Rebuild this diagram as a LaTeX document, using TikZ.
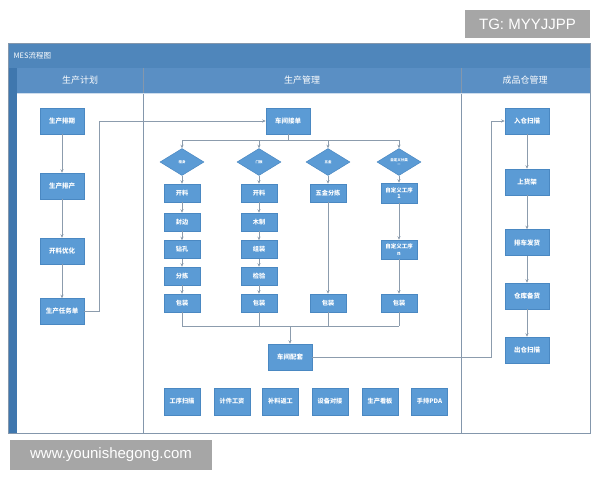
\documentclass[tikz,border=0pt]{standalone}
\usepackage{fontspec}
\setmainfont{Noto Sans CJK SC}
\newfontfamily\wmfont{Liberation Sans}
\usetikzlibrary{shapes.geometric,arrows.meta}
\definecolor{boxblue}{HTML}{5B9BD5}
\definecolor{boxline}{HTML}{4A88C2}
\definecolor{titleblue}{HTML}{4F86BB}
\definecolor{headblue}{HTML}{5A8FC4}
\definecolor{stripblue}{HTML}{3F77AE}
\definecolor{frameline}{HTML}{8497AC}
\definecolor{conn}{HTML}{8C9CAD}
\definecolor{wmgray}{HTML}{A6A6A6}
\tikzset{
  box/.style={rectangle,fill=boxblue,draw=boxline,line width=0.5pt,text=white,
    font=\bfseries\fontsize{6.5}{7.5}\selectfont,minimum width=44pt,minimum height=26pt,inner sep=0pt,align=center},
  sbox/.style={box,minimum width=36pt,minimum height=18pt,font=\bfseries\fontsize{6.2}{6.5}\selectfont},
  gbox/.style={box,minimum width=36pt,minimum height=27pt,font=\bfseries\fontsize{6.2}{6.5}\selectfont},
  dia/.style={diamond,fill=boxblue,draw=boxline,line width=0.5pt,text=white,
    font=\bfseries\fontsize{3.5}{4}\selectfont,minimum width=44pt,minimum height=27pt,inner sep=0pt,align=center},
  line/.style={draw=conn,line width=0.6pt},
  arr/.style={line,-{Stealth[length=3.5pt,width=3pt]}},
  head/.style={text=white,font=\fontsize{9}{9.5}\selectfont},
  wm/.style={fill=wmgray,text=white,font=\wmfont\fontsize{15}{16}\selectfont,inner sep=0pt}
}
\begin{document}
\begin{tikzpicture}[x=1pt,y=-1pt]
\useasboundingbox (0,0) rectangle (600,480);
\fill[white] (0,0) rectangle (600,480);
% frame
\fill[white] (8,43) rectangle (590,433);
\fill[titleblue] (8,43) rectangle (590,68);
\fill[stripblue] (8,68) rectangle (17,433);
\fill[headblue] (17,68) rectangle (590,93);
\draw[frameline,line width=0.7pt] (8,43) rectangle (590,433);
\draw[frameline,line width=0.7pt] (143,68) -- (143,433) (461,68) -- (461,433);
\draw[white!70!headblue,line width=0.5pt] (17,93) -- (590,93);
\node[anchor=west,text=white,font=\fontsize{7.5}{8}\selectfont] (title) at (10,55.5) {MES流程图};
\node[head] (h1) at (80,80.5) {生产计划};
\node[head] (h2) at (302,80.5) {生产管理};
\node[head] (h3) at (525,80.5) {成品仓管理};
% watermarks
\node[wm,minimum width=125pt,minimum height=28pt] (wm1) at (527.5,24) {TG: MYYJJPP};
\node[wm,minimum width=202pt,minimum height=30pt] (wm2) at (111,455) {www.younishegong.com};
% left column
\node[box] (p1) at (62,121) {生产排期};
\node[box] (p2) at (62,186) {生产排产};
\node[box] (p3) at (62,251) {开料优化};
\node[box] (p4) at (62,311.5) {生产任务单};
% middle
\node[box] (m0) at (288,121) {车间接单};
\node[dia] (d1) at (182,162) {柜身};
\node[dia] (d2) at (259,162) {门板};
\node[dia] (d3) at (328,162) {五金};
\node[dia] (d4) at (399,162) {自定义分类\\—};
\node[sbox] (a1) at (182,193) {开料};
\node[sbox] (a2) at (259,193) {开料};
\node[sbox] (a3) at (328,193) {五金分拣};
\node[sbox,minimum height=20pt,font=\bfseries\fontsize{5.5}{6.5}\selectfont] (a4) at (399,193) {自定义工序\\1};
\node[sbox] (b1) at (182,222) {封边};
\node[sbox] (b2) at (259,222) {木制};
\node[sbox] (c1) at (182,249.5) {钻孔};
\node[sbox] (c2) at (259,249.5) {组装};
\node[sbox,minimum height=19pt,font=\bfseries\fontsize{5.5}{6.5}\selectfont] (c4) at (399,249.5) {自定义工序\\n};
\node[sbox] (e1) at (182,276) {分拣};
\node[sbox] (e2) at (259,276) {检验};
\node[sbox] (f1) at (182,303) {包装};
\node[sbox] (f2) at (259,303) {包装};
\node[sbox] (f3) at (328,303) {包装};
\node[sbox] (f4) at (399,303) {包装};
\node[box] (m9) at (290,357) {车间配套};
\node[gbox] (g1) at (182,401.5) {工序扫描};
\node[gbox] (g2) at (232,401.5) {计件工资};
\node[gbox] (g3) at (280.5,401.5) {补料返工};
\node[gbox] (g4) at (330,401.5) {设备对接};
\node[gbox] (g5) at (380,401.5) {生产看板};
\node[gbox] (g6) at (429.5,401.5) {手持PDA};
% right column
\node[box] (r1) at (527,121) {入仓扫描};
\node[box] (r2) at (527,182) {上货架};
\node[box] (r3) at (527,242.5) {排车发货};
\node[box] (r4) at (527,296) {仓库备货};
\node[box] (r5) at (527,350) {出仓扫描};
% helper coordinates
\coordinate (k1) at (99,311.5);
\coordinate (bt) at (288,140);
\coordinate (bb) at (290,326);
\coordinate (k2) at (491,357);
% connectors left
\draw[arr] (p1) -- (p2);
\draw[arr] (p2) -- (p3);
\draw[arr] (p3) -- (p4);
\draw[arr] (p4.east) -- (k1) |- (m0.west);
% top bus
\draw[line] (m0.south) -- (bt);
\draw[line] (d1.north |- bt) -- (d4.north |- bt);
\foreach \d in {d1,d2,d3,d4} \draw[arr] (\d.north |- bt) -- (\d.north);
\draw[arr] (d1) -- (a1);
\draw[arr] (d2) -- (a2);
\draw[arr] (d3) -- (a3);
\draw[arr] (d4) -- (a4);
\draw[arr] (a1) -- (b1);
\draw[arr] (b1) -- (c1);
\draw[arr] (c1) -- (e1);
\draw[arr] (e1) -- (f1);
\draw[arr] (a2) -- (b2);
\draw[arr] (b2) -- (c2);
\draw[arr] (c2) -- (e2);
\draw[arr] (e2) -- (f2);
\draw[arr] (a3) -- (f3);
\draw[arr] (a4) -- (c4);
\draw[arr] (c4) -- (f4);
% bottom bus
\foreach \f in {f1,f2,f3,f4} \draw[line] (\f.south) -- (\f.south |- bb);
\draw[line] (f1.south |- bb) -- (f4.south |- bb);
\draw[arr] (bb) -- (m9.north);
\draw[arr] (m9.east) -- (k2) |- (r1.west);
% right
\draw[arr] (r1) -- (r2);
\draw[arr] (r2) -- (r3);
\draw[arr] (r3) -- (r4);
\draw[arr] (r4) -- (r5);
\end{tikzpicture}
\end{document}
